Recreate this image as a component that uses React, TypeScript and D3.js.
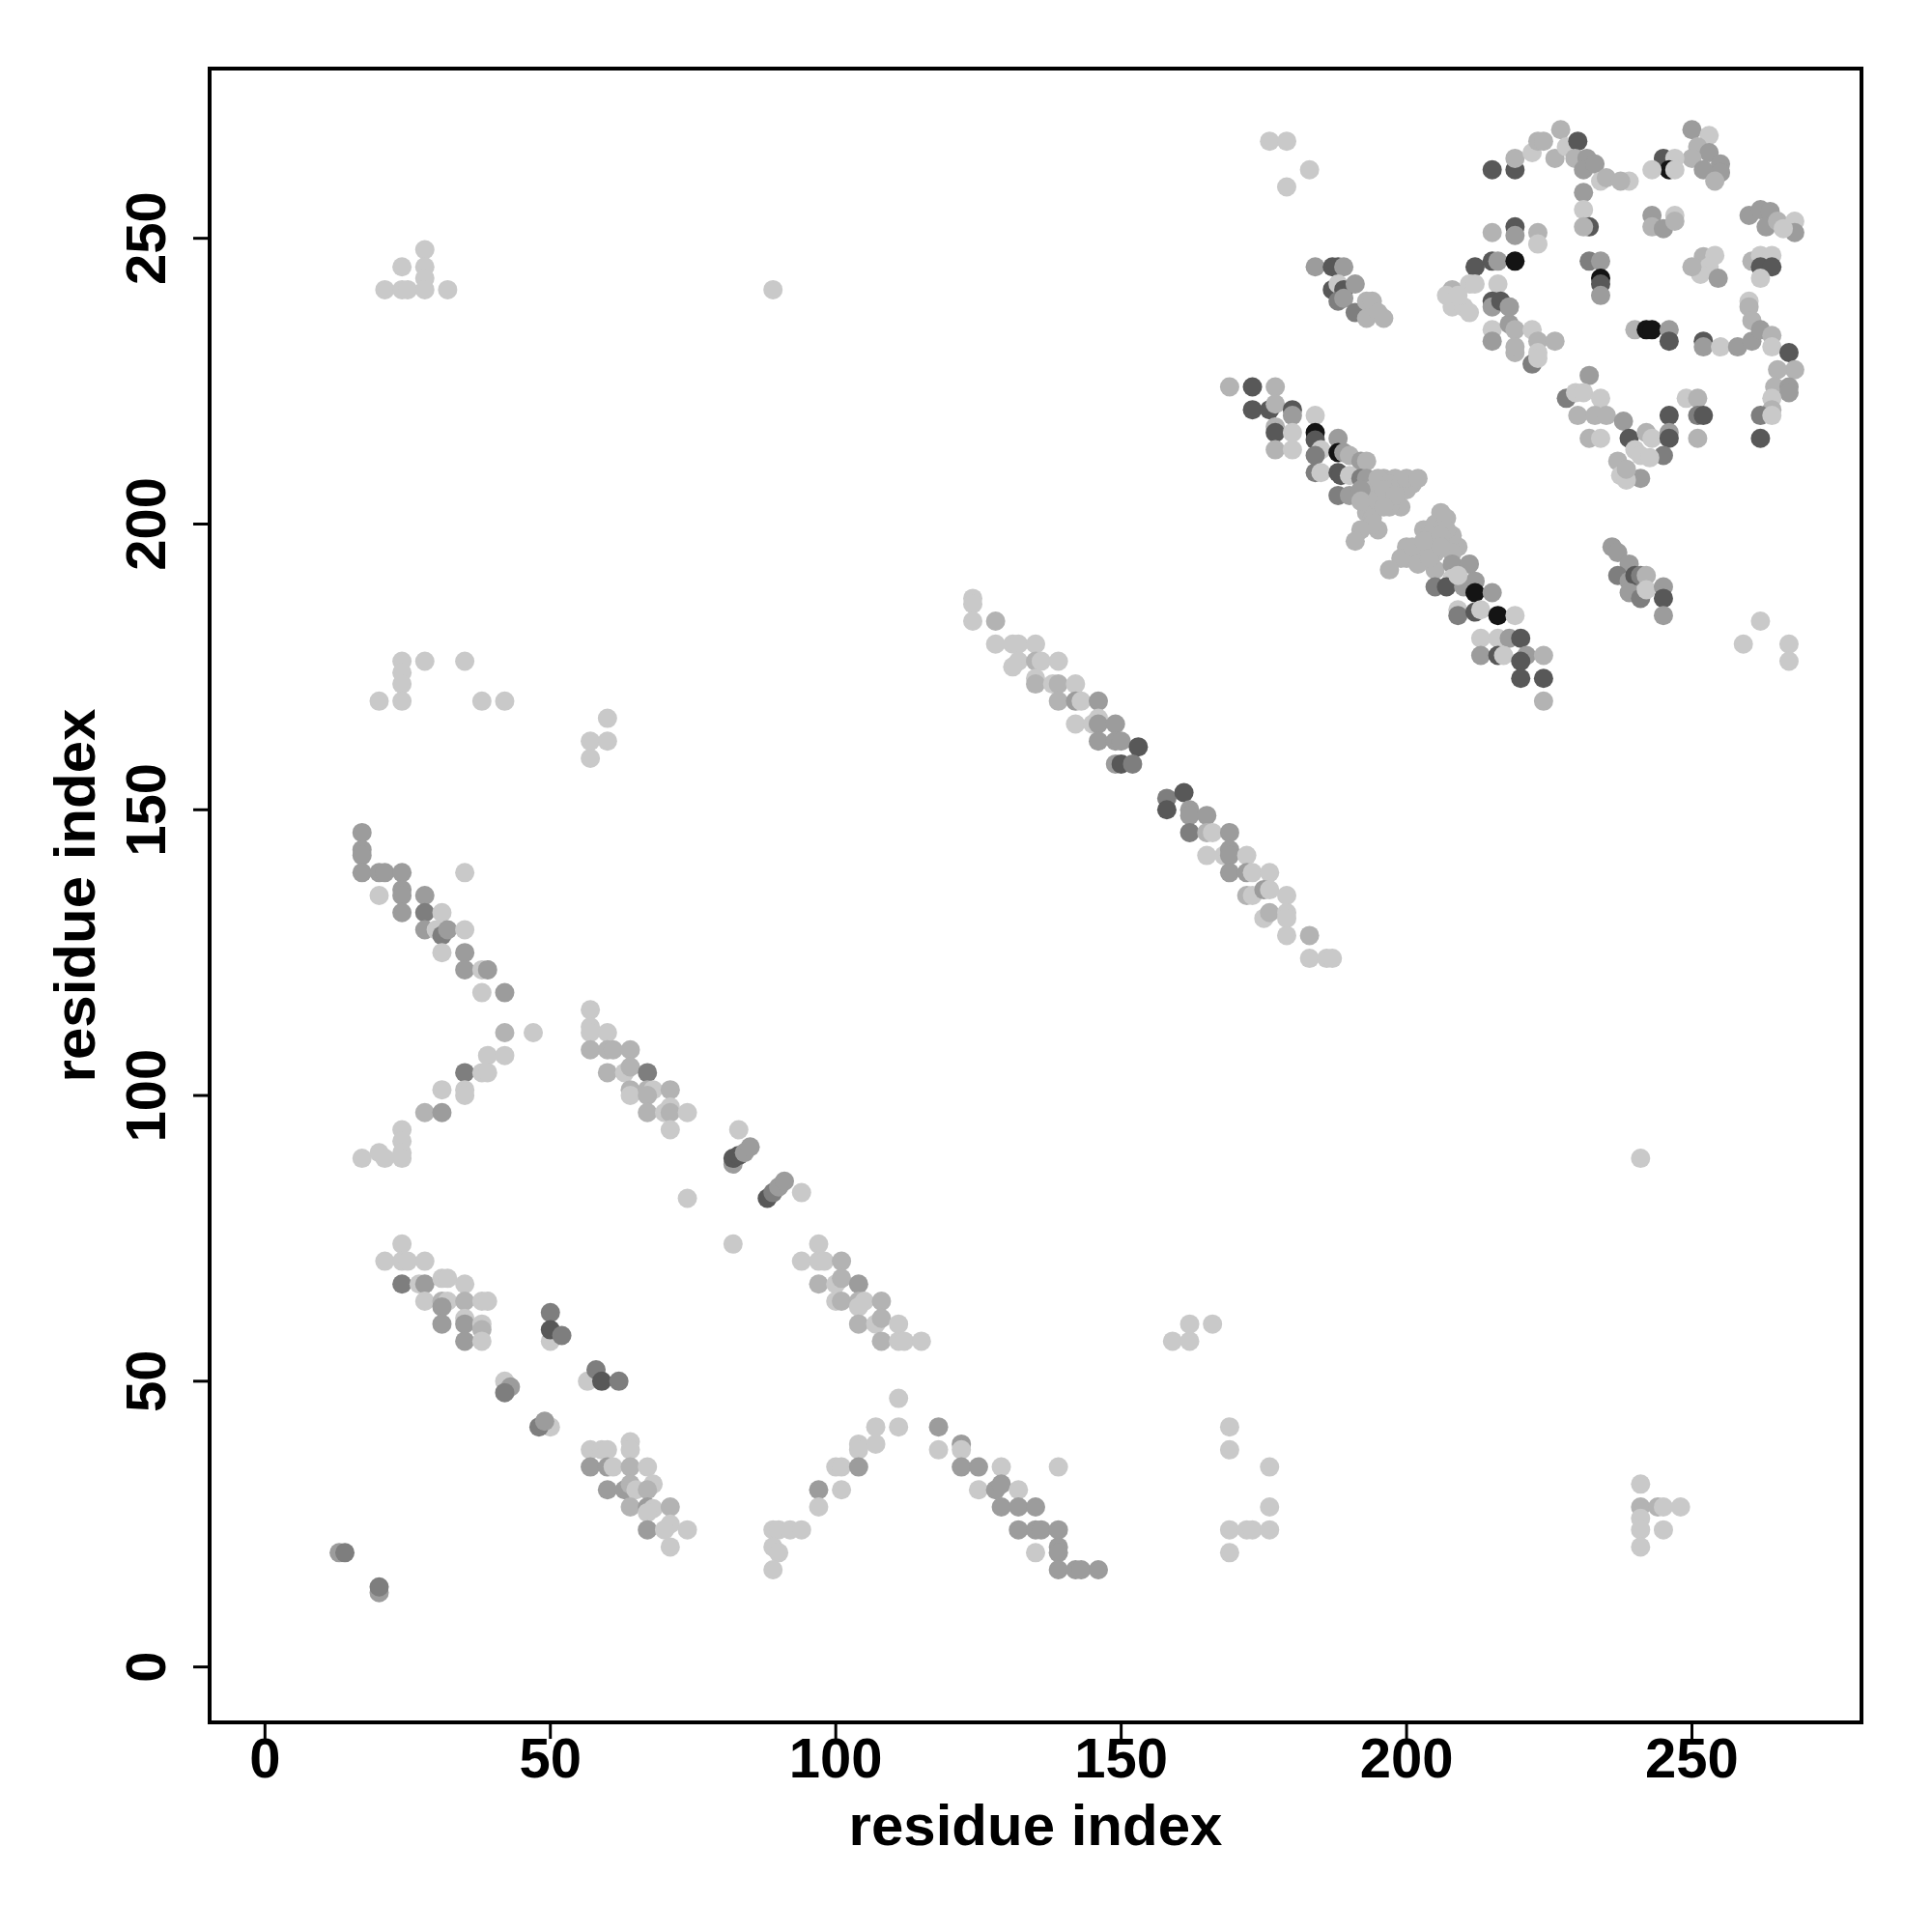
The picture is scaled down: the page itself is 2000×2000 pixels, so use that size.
import React from "react";
import * as d3 from "d3";

// [residue i, residue j, contact strength level 1 (weak/light) .. 6 (strong/black)]
type C = [number, number, number];

const tickValues = [0, 50, 100, 150, 200, 250];
const xLabel = "residue index";
const yLabel = "residue index";

const contactsLowLeft: C[] = [
  [24,74,1],[21,71,1],[24,71,1],[25,71,1],[28,71,1],[24,67,4],[27,67,1],[28,67,3],[31,68,1],[32,68,1],[35,67,1],
  [28,64,1],[31,64,2],[32,64,1],[35,64,2],[38,64,1],[39,64,1],[31,63,3],[31,60,3],[35,61,1],[35,60,3],[35,57,3],
  [38,60,1],[38,59,2],[38,57,1],
  [50,57,1],[50,62,4],[50,59,5],[52,58,4],[56.5,50,1],[58,52,4],[59,50,5],[62,50,4],[42,50,1],[43,49,3],[42,48,4],
  [50,42,1],[48,42,4],[49,43,3],
  [57,38,1],[59,38,1],[60,38,1],[64,39.4,1],[64,38,1],[57,35,3],[60,35,3],[61,35,1],[64,35,2],[67,35,1],[60,31,3],
  [63,31,3],[64,32,2],[65,31,1],[68,32,1],[67,31,2],[64,28,2],[67,28,3],[68,27.7,1],[71,28,2],[67,27,1],[67,24,3],
  [71,25,1],[70,24,1],[74,24,1],[71,21,1],
  [13,20,3],[14,20,4],[20,13,3],[20,14,4]
];

const contactsMidLeft: C[] = [
  [17,146,3],[17,143,3],[17,142,3],[17,139,3],[20,139,3],[21,139,3],[24,139,3],[35,139,1],[20,135,1],[24,136,3],
  [24,135,3],[24,132,3],[28,135,3],[28,132,4],[31,132,1],[28,129,3],[30,129,1],[31,128,4],[32,129,3],[35,129,1],
  [31,125,1],[35,125,3],[35,122,3],[38,122,1],[39,122,3],[38,118,1],[42,118,3],
  [42,111,2],[47,111,1],[39,107,1],[42,107,1],[35,104,4],[38,104,1],[39,104,1],[31,101,1],[35,101,1],[35,100,1],
  [28,97,2],[31,97,3],[24,94,1],[24,92,1],[24,90,1],[24,89,1],[17,89,1],[20,90,1],[21,89,1],
  [57,115,1],[57,112,1],[57,111,1],[60,111,1],[57,108,2],[60,108,2],[61,108,2],[64,108,2],[60,104,2],[63,104,1],
  [64,105,2],[67,104,4],[64,101,2],[64,100,1],[67,101,2],[68,101,1],[67,100,2],[71,101,2],[67,97,2],[70,97,1],
  [71,98,1],[71,97,2],[74,97,1],[71,94,1],[74,82,1],
  [83,94,1],[82,88,3],[82,89,5],[83,89.5,5],[84,90,3],[85,91,3],[88,82,5],[89,83,4],[90,84,3],[91,85,3],[94,83,1],
  [82,74,1],
  [97,74,1],[94,71,1],[97,71,1],[98,71,1],[101,71,2],[97,67,2],[100,67,1],[101,68,2],[104,67,3],[100,64,1],
  [101,64,2],[104,64,2],[105,64,1],[104,63,1],[108,64,2],[104,60,2],[107,60,1],[108,61,2],[111,60,1],[108,57,2],
  [111,57,1],[112,57,1],[115,57,1]
];

const contactsLowMid: C[] = [
  [111,47,1],[107,42,1],[111,42,1],[104,39,1],[104,38,1],[107,39,1],[100,35,1],[101,35,1],[104,35,3],[97,31,3],
  [101,31,1],[97,28,1],[89,24,1],[90,24,1],[92,24,1],[94,24,1],[89,21,1],[90,20,1],[89,17,1],
  [118,42,3],[118,38,1],[122,39,3],[122,38,1],[122,35,3],[125,35,3],[129,35,1],[139,35,1],[125,31,1],[128,31,3],
  [129,32,3],[132,31,1],[129,28,3],[132,28,3],[135,28,3],[132,24,3],[135,24,3],[136,24,3],[139,24,3],[135,20,1],
  [139,21,3],[139,20,3],[139,17,3],[142,17,3],[143,17,3],[146,17,3],
  [159,57,1],[162,57,1],[162,60,1],[166,60,1],[169,42,1],[169,38,1],[176,35,1],[176,28,1],[169,24,1],[172,24,1],
  [173,24,1],[176,24,1],[169,20,1],
  [241,32,1],[241,28,2],[244,28,2],[245,28,1],[248,28,1],[241,26,1],[241,24,1],[245,24,1],[241,21,1],[241,89,1]
];

const contactsUpLeft: C[] = [
  [28,248,1],[24,245,1],[28,245,1],[28,243,1],[21,241,1],[24,241,1],[25,241,1],[28,241,1],[32,241,1],[89,241,1],
  [24,176,1],[28,176,1],[35,176,1],[24,174,1],[24,172,1],[20,169,1],[24,169,1],[38,169,1],[42,169,1],
  [57,162,1],[57,159,1],[60,162,1],[60,166,1]
];

const contactsDiagonal: C[] = [
  [124,187,1],[124,186,1],[124,183,1],[128,183,2],[128,179,1],[131,179,1],[132,179,1],[135,179,1],[132,176,1],
  [131,175,1],[135,176,2],[136,176,1],[139,176,1],[135,173,1],[135,172,2],[138,172,1],[139,172,2],[142,172,1],
  [139,169,2],[142,169,3],[143,169,1],[146,169,3],[142,165,1],[145,165,1],[146,166,1],[146,165,3],[149,165,3],
  [146,162,3],[149,162,3],[150,162,3],[153,161,5],[149,158,3],[150,158,5],[152,158,4],
  [158,152,4],[158,150,5],[161,153,5],[162,150,3],[162,149,3],[165,149,3],[162,146,4],[165,146,2],[166,146,1],
  [169,146,3],[165,142,1],[168,142,1],[169,143,3],[169,142,3],[172,142,1],[169,139,3],[172,139,3],[173,139,1],
  [176,139,1],[172,135,2],[173,135,1],[175,136,3],[176,136,1],[179,135,1],[175,131,1],[176,132,2],[179,132,1],
  [179,131,1],[179,128,1],[183,128,2],[183,124,1],[186,124,1],[187,124,1]
];

const contactsHelix: C[] = [
  [169,224,2],[173,224,5],[177,224,2],[173,220,5],[176,220,5],[177,221,2],[180,220,5],[180,219,3],[177,217,2],
  [177,216,5],[180,216,1],[177,213,2],[180,213,1],[184,219,1],[184,216,6],[184,214.7,5],[188,215,3],[185,213,1],
  [184,212,4],[188,212.5,6],[189,212.5,3],[190,212,2],[192,211,3],[193,211,2],[184,209,4],[185,209,1],[188,209,5],
  [188.5,208.5,5],[190,208.5,1],[192,208,4],[193,208,3],[188,205,4],[190,205,3],
  [194,206,2],[196,208,2],[198,208,2],[194,204,2],[199,203,2],[193,202,2],[195,199,2],
  [195,208,2],[197,207,2],[199,207,2],
  [201,207,2],[192,206,3],[192,204,2],[195,204,2],[197,204,2],[197,203,2],[200,206,2],[194,201,2],[194,200,2],
  [192,199,2],[191,197,2],[196,206,2],[198,205,2],[196,203,2],[200,208,2],[202,208,2],
  [203,199,2],[205,200,2],[206,202,2],[202,195,2],[200,196,2],[207,197,2],[209,196,2],[208,198,2],
  [207,201,2],[207,199,2],[204,198,2],[204,197,2],[208,195,2],[205,195,2],[200,194,2],[199,194,2],[197,192,2],
  [205,192,2],[201,196,2],[203,197,2],[206,198,2],[202,193,2],[204,194,2],[206,196,2],[208,193,3],[211,193,3],
  [212,190,3],[208,190.5,1],[205,189,4],[207,189,5],[210,189,3],[209,191,1],[212,188,6],[215,188,3],[209,185,1],
  [209,184,4],[212,184.6,5],[213,185,1],[216,184,6],[219,184,1],[213,180,1],[216,180,1],[218,180,3],[220,180,5],
  [213,177,3],[216,177,5],[217,177,1],[221,177,3],[224,177,2],[220,176,5],[220,173,5],[224,173,5],[224,169,2]
];

const contactsUpRight: C[] = [
  [176,267,1],[179,267,1],[183,262,1],[179,259,1],[184,245,3],[187,245,5],[188,245,5],[189,245,3],[187,241,5],
  [188,242,1],[189,241,5],[191,242,3],[188,239,4],[189,239.5,3],[191,237,4],[193,239,2],[194,239,2],[193,236,2],
  [195,237,2],[196,236,2],
  [215,262,5],[219,262,5],[219,264,2],[215,251,2],[219,252,5],[219,250.5,3],[212,245,5],[215,246,5],[216,246,3],
  [219,246,6],[216,242,1],[208,241,2],[211,242,1],[212,242,1],[208,238,1],[210,238,1],[211,237,1],[207,240,1],
  [209,240,1],[215,239,5],[215,238,3],[218,238,2],[215,234,1],[215,232,3],[218,235,3],[219,234,2],[219,230,2],
  [222,265,1],[223,267,2],[224,267,2],[227,269,2],[226,264,2],[228,266,1],[230,267,5],[229.5,264,2],[231.6,264,3],
  [231,262,3],[233,263,3],[234,260,1],[235,260.6,2],[239,260,1],[237.5,260,2],[231,258,3],[231,255,1],[232,252,5],
  [231,252,2],[223,251,2],[223,249,1],[232,246,4],[234,246,3],[234,243,6],[234,242,5],[234,240,3],
  [216.5,239,5],[218,238,3],[219,231,2],[222,234,1],[223,232,2],[223,230,1],[222,228,4],[226,232,2],[223,229,1],
  [240,234,2],[242,234,6],[243,234,6],[246,234,3],[246,232,5],
  [252,232,5],[252,231,3],[255,231,1],[258,231,3],[260.5,232,3],[260,239,1],[260,238,2],[260.5,235.6,2],[262,234,3],
  [264,233,2],[264,231,1],[267,230,5],[268,227,2],[265,227,2],[264.5,224,2],[267,224,3],[267,223,3],[264,222,1],
  [264,220,2],[262,219,4],[262,215,5],[264,219,1],
  [232,226,3],[228,222,4],[229.6,223,1],[231,223,1],[234,222,1],[230,219,2],[233,219,2],[235,219,2],[238,218,3],
  [232,215,2],[234,215,1],[239,215,5],[242,216,2],[243,215,1],[246,219,5],[246,216,3],[246,215,5],[245,212,4],
  [249,222,1],[251,222,2],[251,219,4],[252,219,5],[251,215,2],[237,211,2],[237.5,208.5,1],[240,213,1],[241,212,1],
  [242.6,211.6,1],[241,208,3],[238.5,207.7,1],[238.5,209.6,2],
  [250,269,3],[253,268,1],[251,266,2],[253,265,3],[250,264,2],[255,263,3],[255,261.5,3],[252,262,3],[254,260,2],
  [245,264,5],[247,264,1],[246,262,6],[247,262,1],[243,262,1],[243,254,3],[247,254,1],[243,252,2],[245,251.7,3],
  [247,253,2],[252,246.8,2],[254,247,1],[253,245,1],[251.5,243.7,1],[254.6,243,3],[250,245,2],
  [260,254,3],[262,255,3],[263.7,254.7,3],[263,252,3],[265,253,2],[268,253,1],[268,251,3],[266,251.7,1],
  [260.5,246,2],[262,247,1],[264,247,1],[262,245,5],[264,245,5],[262,243,1],
  [236,196,3],[237,195,3],[239,193,3],[237,191,4],[239,190,3],[240,191,5],[241,191,4],[242,191,2],[239,188,3],
  [241,187,4],[242,188.5,1],[245,189,3],[245,187,5],[245,184,3],[259,179,1],[262,183,1],[267,179,1],[267,176,1]
];

const allContacts: C[] = [
  ...contactsLowLeft, ...contactsMidLeft, ...contactsLowMid, ...contactsUpLeft,
  ...contactsDiagonal, ...contactsHelix, ...contactsUpRight
];

const W = 2000, H = 2000;
const margin = { left: 217, right: 2000 - 1927, top: 71, bottom: 2000 - 1783 };

export default function App() {
  const x = d3.scaleLinear().domain([-9.7, 279.7]).range([margin.left, W - margin.right]);
  const y = d3.scaleLinear().domain([-9.7, 279.7]).range([H - margin.bottom, margin.top]);
  const grey = d3.scaleLinear<string>()
    .domain([1, 2, 3, 4, 5, 6])
    .range(["#c9c9c9", "#b3b3b3", "#9c9c9c", "#7e7e7e", "#585858", "#141414"]);
  const font = "'Liberation Sans', Arial, Helvetica, sans-serif";
  const x0 = margin.left, x1 = W - margin.right, y0 = margin.top, y1 = H - margin.bottom;
  const tickLen = 17;
  return (
    <svg width={W} height={H} style={{ position: "absolute", left: 0, top: 0, background: "#fff" }}>
      <rect x={0} y={0} width={W} height={H} fill="#fff" />
      <g>
        {allContacts.map((d, i) => (
          <circle key={i} cx={x(d[0])} cy={y(d[1])} r={10} fill={grey(d[2])} />
        ))}
      </g>
      <rect x={x0} y={y0} width={x1 - x0} height={y1 - y0} fill="none" stroke="#000" strokeWidth={4} />
      <g>
        {tickValues.map((t) => (
          <g key={"x" + t}>
            <line x1={x(t)} x2={x(t)} y1={y1} y2={y1 + tickLen} stroke="#000" strokeWidth={3} />
            <text x={x(t)} y={1840} textAnchor="middle" fontFamily={font} fontWeight="bold" fontSize={58}>{t}</text>
          </g>
        ))}
        {tickValues.map((t) => (
          <g key={"y" + t}>
            <line x1={x0 - tickLen} x2={x0} y1={y(t)} y2={y(t)} stroke="#000" strokeWidth={3} />
            <text transform={`translate(171,${y(t)}) rotate(-90)`} textAnchor="middle" fontFamily={font} fontWeight="bold" fontSize={58}>{t}</text>
          </g>
        ))}
      </g>
      <text x={(x0 + x1) / 2} y={1910} textAnchor="middle" fontFamily={font} fontWeight="bold" fontSize={60}>{xLabel}</text>
      <text transform={`translate(98,${(y0 + y1) / 2}) rotate(-90)`} textAnchor="middle" fontFamily={font} fontWeight="bold" fontSize={60}>{yLabel}</text>
    </svg>
  );
}
